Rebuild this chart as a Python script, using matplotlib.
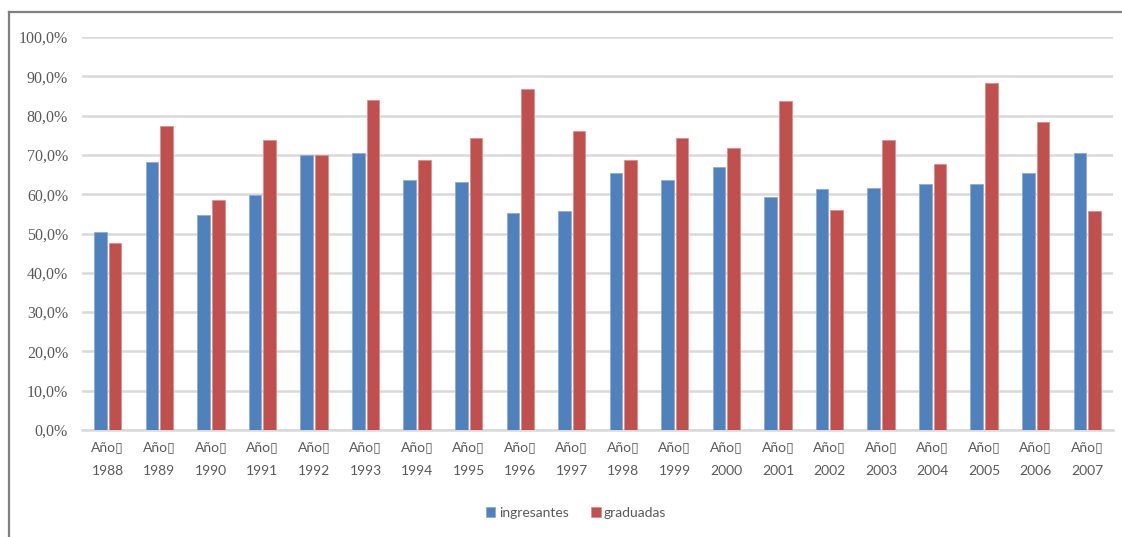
import numpy as np
import matplotlib.pyplot as plt
from matplotlib.lines import Line2D

years = [1988, 1989, 1990, 1991, 1992, 1993, 1994, 1995, 1996, 1997,
         1998, 1999, 2000, 2001, 2002, 2003, 2004, 2005, 2006, 2007]
ingresantes = [50.5, 68.2, 54.7, 59.8, 70.0, 70.5, 63.5, 63.0, 55.1, 55.6,
               65.3, 63.5, 66.8, 59.4, 61.2, 61.7, 62.6, 62.6, 65.4, 70.6]
graduadas = [47.7, 77.4, 58.4, 73.7, 70.0, 84.0, 68.7, 74.2, 86.8, 76.0,
             68.7, 74.2, 71.8, 83.6, 56.1, 73.7, 67.7, 88.3, 78.4, 55.6]
xlabels = ["Año\u25af\n%d" % y for y in years]
yticks = [0, 10, 20, 30, 40, 50, 60, 70, 80, 90, 100]

blue = '#4F81BD'
red = '#C0504D'
grey = '#595959'

fig = plt.figure(figsize=(11.22, 5.37), dpi=100)
ax = fig.add_axes([82/1122, 1-430/537, (1113-82)/1122, (430-37)/537])

x = np.arange(len(years))
w = 0.245
ax.bar(x-0.142, ingresantes, w, color=blue, edgecolor='#8FAAD6', linewidth=0.6,
       label='ingresantes', zorder=3)
ax.bar(x+0.142, graduadas, w, color=red, edgecolor='#DC8E8C', linewidth=0.6,
       label='graduadas', zorder=3)

ax.set_xlim(-0.5, len(years)-0.5)
ax.set_ylim(0, 100)
ax.set_yticks(yticks)
ax.set_yticklabels(["%d,0%%" % v for v in yticks])
for t in ax.get_yticklabels():
    t.set_fontfamily('Liberation Serif')
    t.set_fontsize(11.5)
    t.set_color(grey)
ax.set_xticks(x)
ax.set_xticklabels(xlabels, family=['Lato', 'DejaVu Sans'], fontsize=10,
                   color=grey, linespacing=2.2)
ax.tick_params(length=0)
ax.tick_params(axis='x', pad=8)
ax.tick_params(axis='y', pad=10)
ax.grid(axis='y', color='#D9D9D9', linewidth=1.8, zorder=0)
for s in ['top', 'right', 'left']:
    ax.spines[s].set_visible(False)
ax.spines['bottom'].set_color('#D9D9D9')
ax.spines['bottom'].set_linewidth(1.8)

leg = fig.legend(loc='center', bbox_to_anchor=(576/1122, 1-513/537), ncol=2,
                 frameon=False, handlelength=0.7, handleheight=0.7,
                 handletextpad=0.25, columnspacing=1.6,
                 prop={'family': 'Lato', 'size': 10})
for t in leg.get_texts():
    t.set_color(grey)

# outer frame (only top and left visible in the crop)
fig.add_artist(Line2D([9/1122, 9/1122], [0, 1-12/537], color='#7F7F7F', linewidth=1.6))
fig.add_artist(Line2D([9/1122, 1], [1-12/537, 1-12/537], color='#7F7F7F', linewidth=1.6))

fig.savefig('out.png', dpi=100)
